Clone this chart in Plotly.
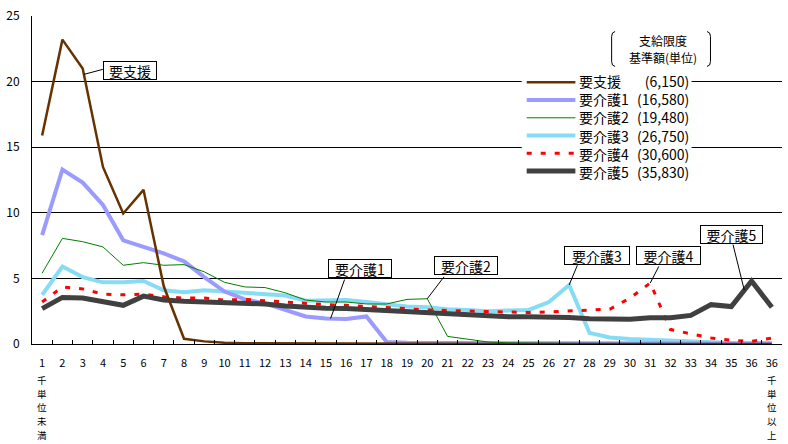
import numpy as np
import plotly.graph_objects as go

# ---------------- data ----------------
categories = list(range(1, 38))
tick_labels = [str(i) for i in range(1, 37)] + ["36"]
first_note = "千単位未満"
last_note = "千単位以上"

series_names = ["要支援", "要介護1", "要介護2", "要介護3", "要介護4", "要介護5"]
limit_units = ["(6,150)", "(16,580)", "(19,480)", "(26,750)", "(30,600)", "(35,830)"]
legend_title = ["支給限度", "基準額(単位)"]

youshien = [15.9, 23.2, 21.0, 13.5, 9.95, 11.75, 4.4, 0.4, 0.2, 0.1, 0.06, 0.05, 0.04,
            0.03, 0.03, 0.02, 0.02, 0.02, 0.01, 0.01, 0.01, 0.01, 0.01, 0.01, 0.01, 0.01,
            0.01, 0.01, 0.0, 0.0, 0.0, 0.0, 0.0, 0.0, 0.0, 0.0, 0.0]
kaigo1 = [8.3, 13.3, 12.3, 10.6, 7.9, 7.4, 6.9, 6.3, 5.1, 4.0, 3.4, 3.1, 2.6, 2.1, 1.95,
          1.9, 2.1, 0.15, 0.1, 0.08, 0.07, 0.06, 0.06, 0.05, 0.05, 0.05, 0.05, 0.05, 0.05,
          0.04, 0.04, 0.04, 0.03, 0.03, 0.03, 0.03, 0.03]
kaigo2 = [5.4, 8.05, 7.8, 7.4, 6.0, 6.2, 6.0, 6.05, 5.5, 4.7, 4.35, 4.3, 3.9, 3.35, 3.2,
          3.2, 3.05, 3.05, 3.4, 3.45, 0.58, 0.38, 0.15, 0.09, 0.06, 0.05, 0.05, 0.05, 0.04,
          0.04, 0.03, 0.03, 0.03, 0.02, 0.02, 0.02, 0.02]
kaigo3 = [3.75, 5.9, 5.1, 4.7, 4.7, 4.8, 4.1, 3.95, 4.1, 4.0, 3.95, 3.85, 3.7, 3.3, 3.3,
          3.35, 3.2, 3.05, 2.85, 2.8, 2.65, 2.6, 2.5, 2.55, 2.6, 3.2, 4.5, 0.85, 0.5, 0.38,
          0.32, 0.22, 0.15, 0.12, 0.08, 0.06, 0.05]
kaigo4 = [3.2, 4.35, 4.2, 3.8, 3.75, 3.8, 3.6, 3.5, 3.5, 3.35, 3.4, 3.3, 3.15, 3.1, 3.0,
          2.95, 2.85, 2.75, 2.7, 2.6, 2.55, 2.5, 2.45, 2.4, 2.4, 2.45, 2.5, 2.55, 2.65, 3.5,
          4.65, 1.1, 0.8, 0.46, 0.28, 0.2, 0.45]
kaigo5 = [2.7, 3.55, 3.5, 3.25, 2.95, 3.65, 3.35, 3.25, 3.2, 3.1, 3.1, 3.05, 2.9, 2.8, 2.72,
          2.7, 2.62, 2.52, 2.45, 2.4, 2.37, 2.25, 2.15, 2.07, 2.07, 2.07, 2.02, 1.92, 1.94,
          1.88, 2.0, 2.0, 2.18, 3.0, 2.85, 4.8, 2.8]
series_values = [youshien, kaigo1, kaigo2, kaigo3, kaigo4, kaigo5]

# ---------------- styles ----------------
styles = [
    dict(color="#663300", width=2.5, dash="solid"),
    dict(color="#9a9aff", width=4, dash="solid"),
    dict(color="#008000", width=1, dash="solid"),
    dict(color="#86dcf5", width=4, dash="solid"),
    dict(color="#ff0000", width=3, dash="5px,9px"),
    dict(color="#404040", width=5, dash="solid"),
]
draw_order = [3, 1, 2, 4, 5, 0]

FONT = "Noto Sans CJK JP"
W, H = 788, 444
ML, MR, MT, MB = 27, 6, 6, 100
PW, PH = W - ML - MR, H - MT - MB


def xp(px):
    return (px - ML) / PW


def yp(py):
    return (H - MB - py) / PH


fig = go.Figure()
for i in draw_order:
    fig.add_trace(go.Scatter(
        x=categories, y=series_values[i], mode="lines", name=series_names[i],
        line=styles[i], showlegend=False, hoverinfo="x+y+name"))

shapes = []
annotations = []

# ---- vertical notes under first / last category ----
for cat, note in ((categories[0], first_note), (categories[-1], last_note)):
    for j, ch in enumerate(note):
        annotations.append(dict(xref="x", yref="paper", x=cat, y=yp(381 + 14.2 * j),
                                text=ch, showarrow=False, xanchor="center", yanchor="middle",
                                borderpad=0, font=dict(family=FONT, size=9.5, color="black")))

# ---- manual legend ----
shapes.append(dict(type="rect", xref="paper", yref="paper", x0=xp(520), x1=xp(691),
                   y0=yp(177), y1=yp(16), fillcolor="white", line=dict(width=0), layer="above"))
for side in ("left", "right"):
    if side == "left":
        a, b = 614, 610.5
    else:
        a, b = 706.5, 710
    shapes.append(dict(type="path", xref="paper", yref="paper", layer="above",
                       path=f"M {xp(a)},{yp(22)} Q {xp(b)},{yp(22.5)} {xp(b)},{yp(27)} "
                            f"L {xp(b)},{yp(53)} Q {xp(b)},{yp(57.5)} {xp(a)},{yp(58)}",
                       line=dict(color="black", width=1)))
for j, (line_txt, ly) in enumerate(zip(legend_title, (31.3, 49.0))):
    annotations.append(dict(xref="paper", yref="paper", x=xp(662.5), y=yp(ly),
                            text=line_txt, showarrow=False, xanchor="center",
                            yanchor="middle", borderpad=0,
                            font=dict(family=FONT, size=12, color="black")))
row0, rstep = 74.3, 18.3
for k in range(6):
    ry = row0 + rstep * k
    st = styles[k]
    shapes.append(dict(type="line", xref="paper", yref="paper", x0=xp(525), x1=xp(574),
                       y0=yp(ry), y1=yp(ry), layer="above",
                       line=dict(color=st["color"], width=st["width"], dash=st["dash"])))
mid = row0 + rstep * 2.5
annotations.append(dict(xref="paper", yref="paper", x=xp(576), y=yp(mid),
                        text="<br>".join(series_names), showarrow=False, align="left",
                        xanchor="left", yanchor="middle",
                        font=dict(family=FONT, size=14, color="black")))
annotations.append(dict(xref="paper", yref="paper", x=xp(690), y=yp(mid),
                        text="<br>".join(limit_units), showarrow=False, align="right",
                        xanchor="right", yanchor="middle",
                        font=dict(family=FONT, size=14, color="black")))

# ---- callouts: (series, x position, box centre offset px, line start offset px, box width)
callouts = [
    (0, 3.06, (45.8, -4.2), (18.9, -5.0), 52),
    (1, 15.23, (29.6, -50.0), (14.0, -39.0), 62),
    (2, 20.0, (38.7, -33.2), (16.7, -21.9), 62),
    (3, 27.0, (28.0, -29.5), (8.2, -19.7), 64),
    (4, 31.0, (18.4, -27.4), (8.6, -16.6), 63),
    (5, 35.64, (-13.2, -56.0), (-11.3, -45.7), 61),
]
for s, xpos, (bdx, bdy), (ldx, ldy), bw in callouts:
    ytip = float(np.interp(xpos, categories, series_values[s]))
    shapes.append(dict(type="line", xref="x", yref="y", xsizemode="pixel", ysizemode="pixel",
                       xanchor=xpos, yanchor=ytip, x0=0, x1=ldx, y0=0, y1=-ldy,
                       line=dict(color="black", width=1), layer="above"))
    annotations.append(dict(xref="x", yref="y", x=xpos, y=ytip, xshift=bdx, yshift=-bdy,
                            text=series_names[s], showarrow=False, xanchor="center",
                            yanchor="middle", width=bw, height=17, borderpad=0,
                            bordercolor="black", borderwidth=1, bgcolor="white",
                            font=dict(family=FONT, size=14, color="black")))

fig.update_layout(
    width=W, height=H, margin=dict(l=ML, r=MR, t=MT, b=MB),
    paper_bgcolor="white", plot_bgcolor="white",
    font=dict(family=FONT, color="black"),
    shapes=shapes, annotations=annotations, showlegend=False,
    xaxis=dict(range=[0.5, 37.5], tickmode="array", tickvals=categories, ticktext=tick_labels,
               ticks="", showgrid=False, zeroline=False, showline=True, linecolor="black",
               linewidth=1, tickfont=dict(family=FONT, size=11, color="black"),
               ticklabelstandoff=9, tickangle=0, ticklabeloverflow="allow",
               minor=dict(tickmode="array", tickvals=[i + 0.5 for i in range(1, 37)],
                          ticks="inside", ticklen=4, tickcolor="black", showgrid=False)),
    yaxis=dict(range=[0, 25], tickmode="linear", tick0=0, dtick=5, showgrid=True,
               gridcolor="black", gridwidth=1, zeroline=False, showline=True,
               linecolor="black", linewidth=1, ticks="", ticklabeloverflow="allow",
               tickfont=dict(family=FONT, size=12, color="black"), ticklabelstandoff=9),
)

fig.write_html("out.html")
